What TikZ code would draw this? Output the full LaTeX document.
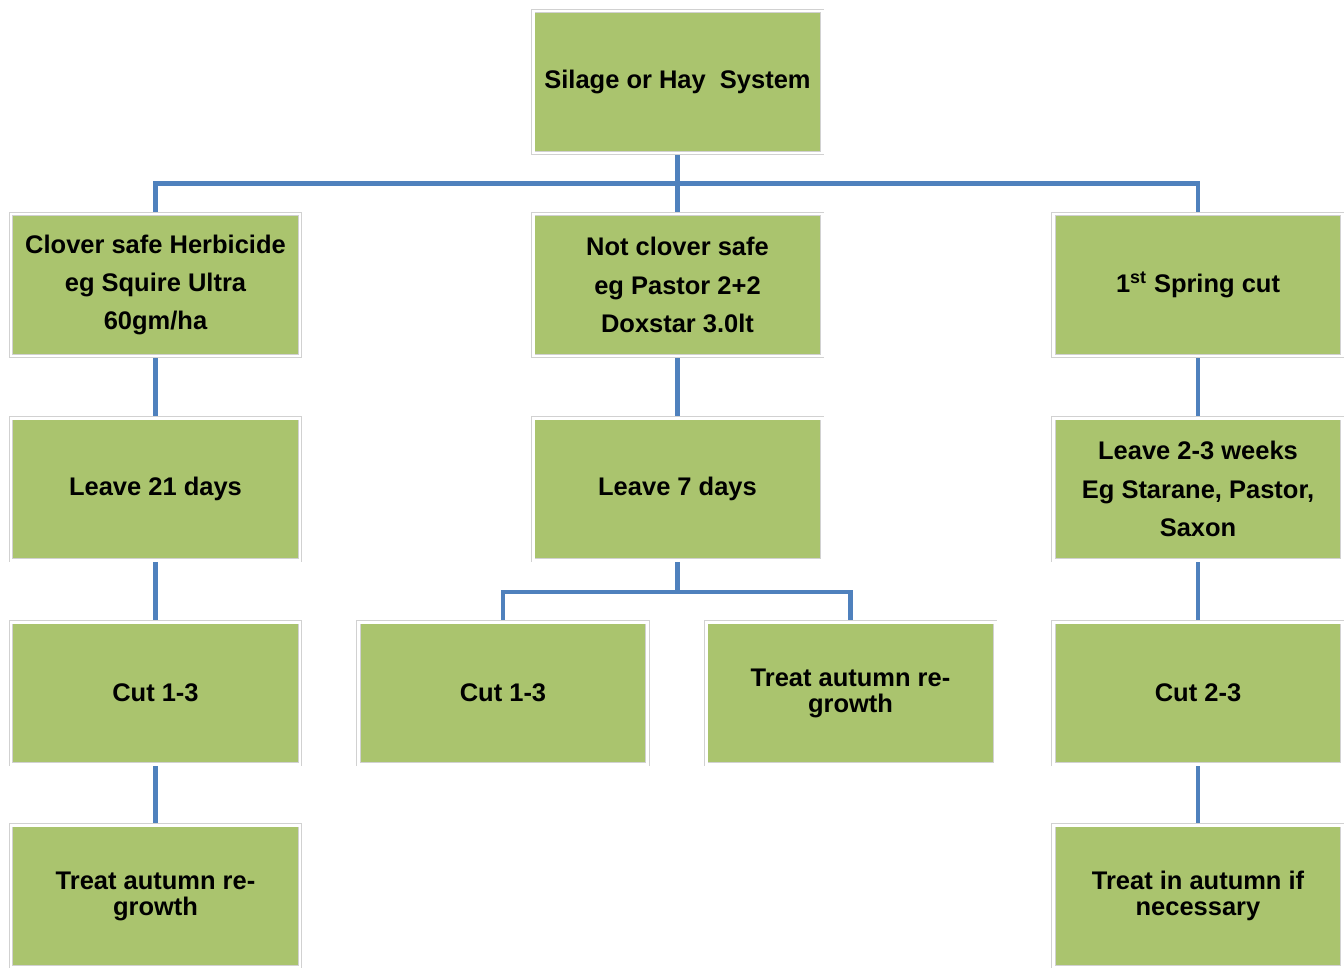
\documentclass[tikz,border=0pt]{standalone}
\usepackage{fontspec}
\setmainfont{Liberation Sans}
\usetikzlibrary{backgrounds}
\definecolor{boxgreen}{RGB}{170,196,110}
\definecolor{linkblue}{RGB}{79,129,189}
\tikzset{
	box/.style={fill=boxgreen,draw=black!18,double=white,line width=0.35pt,double distance=1.7pt,minimum width=5.78cm,minimum height=2.84cm,inner sep=0pt,align=center,font=\bfseries\fontsize{14.5}{21.8}\selectfont,execute at begin node={\vspace*{3.4pt}}},
	tight/.style={font=\bfseries\fontsize{14.5}{14.8}\selectfont},
	link/.style={draw=linkblue,line width=2.3pt}
}

\begin{document}
\begin{tikzpicture}
		\useasboundingbox (0,0) rectangle (26.88,-19.34);
		\node[box] (top) at (13.55,-1.64) {Silage or Hay~~System};
		\node[box] (l1) at (3.11,-5.70) {Clover safe Herbicide\\eg Squire Ultra\\60gm/ha};
		\node[box] (m1) at (13.55,-5.70) {Not clover safe\\eg Pastor 2+2\\Doxstar 3.0lt};
		\node[box] (r1) at (23.96,-5.70) {1\textsuperscript{st} Spring cut};
		\node[box] (l2) at (3.11,-9.78) {Leave 21 days};
		\node[box] (m2) at (13.55,-9.78) {Leave 7 days};
		\node[box] (r2) at (23.96,-9.78) {Leave 2-3 weeks\\Eg Starane, Pastor,\\Saxon};
		\node[box] (l3) at (3.11,-13.86) {Cut 1-3};
		\node[box] (m3a) at (10.06,-13.86) {Cut 1-3};
		\node[box,tight] (m3b) at (17.01,-13.86) {Treat autumn re-\\growth};
		\node[box] (r3) at (23.96,-13.86) {Cut 2-3};
		\node[box,tight] (l4) at (3.11,-17.92) {Treat autumn re-\\growth};
		\node[box,tight] (r4) at (23.96,-17.92) {Treat in autumn if\\necessary};
		\coordinate (bar) at (13.55,-3.67);
		\coordinate (split) at (13.55,-11.84);
		\begin{scope}[on background layer]
			\draw[link] (top) -- (bar) -- (m1);
			\draw[link] (bar) -| (l1);
			\draw[link] (bar) -| (r1);
			\draw[link] (l1) -- (l2) -- (l3) -- (l4);
			\draw[link] (r1) -- (r2) -- (r3) -- (r4);
			\draw[link] (m1) -- (m2) -- (split);
			\draw[link] (split) -| (m3a);
			\draw[link] (split) -| (m3b);
		\end{scope}
	\end{tikzpicture}
\end{document}
